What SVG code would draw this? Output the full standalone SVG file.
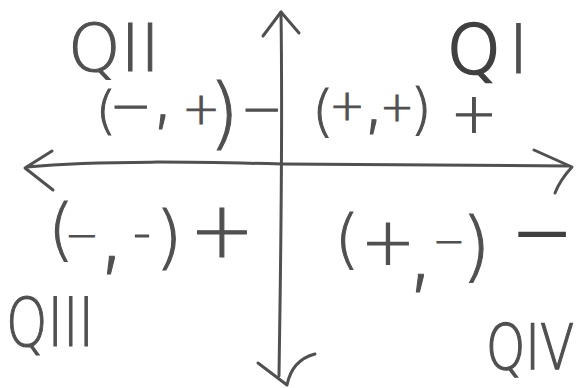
<svg xmlns="http://www.w3.org/2000/svg" width="578" height="388" viewBox="0 0 578 388">
<style>
.ln{fill:none;stroke:#505050;stroke-width:3;stroke-linecap:round;stroke-linejoin:round}
text{font-family:"DejaVu Sans","Liberation Sans",sans-serif;font-weight:200;fill:#505050;stroke:#505050;stroke-width:1.1;text-anchor:middle}
.st{text-anchor:start}
.heavy{stroke:#404040;stroke-width:2.5;fill:#404040}
</style>
<rect width="578" height="388" fill="#fff"/>
<g id="axes">
<path class="ln" d="M27,167 C100,160 200,162 282,164 L569,166"/>
<path class="ln" d="M52,151 L25,168 L53,190"/>
<path class="ln" d="M534,150 L572,167 Q560,180 555,193"/>
<path class="ln" d="M281,12 C283,150 280,300 279,376"/>
<path class="ln" d="M263,36 L281,12 L299,33"/>
<path class="ln" d="M258,363 L287,385 Q292,360 315,354"/>
</g>
<g id="q2">
<text class="st" x="68" y="71" font-size="66" textLength="92" lengthAdjust="spacingAndGlyphs">QII</text>
<text><tspan x="106" y="128" font-size="52">(</tspan><tspan x="131" y="123" font-size="50">−</tspan><tspan x="163" y="120" font-size="80">,</tspan><tspan x="201" y="124" font-size="45">+</tspan><tspan x="224" y="140" font-size="78">)</tspan></text>
<text x="262" y="126" font-size="50">−</text>
</g>
<g id="q1">
<text class="st" x="447" y="73" font-size="68"><tspan class="heavy">Q</tspan><tspan dx="8">I</tspan></text>
<text><tspan x="323" y="130" font-size="56">(</tspan><tspan x="347" y="120" font-size="42">+</tspan><tspan x="374" y="125" font-size="80">,</tspan><tspan x="397" y="121" font-size="40">+</tspan><tspan x="421" y="128" font-size="55">)</tspan></text>
<text x="474" y="132" font-size="56">+</text>
</g>
<g id="q3">
<text><tspan x="61" y="253" font-size="67">(</tspan><tspan x="82" y="249" font-size="40">−</tspan><tspan x="112" y="262" font-size="100">,</tspan><tspan x="142" y="250" font-size="50">-</tspan><tspan x="169" y="261" font-size="70">)</tspan></text>
<text x="222" y="257" font-size="78">+</text>
<text class="st" x="6" y="346" font-size="68" textLength="88" lengthAdjust="spacingAndGlyphs">QIII</text>
</g>
<g id="q4">
<text><tspan x="347" y="261" font-size="64">(</tspan><tspan x="388" y="264" font-size="65">+</tspan><tspan x="421" y="280" font-size="100">,</tspan><tspan x="449" y="254" font-size="38">−</tspan><tspan x="476" y="272" font-size="76">)</tspan></text>
<text class="heavy" x="542" y="257" font-size="72">−</text>
<text class="st" transform="translate(486,369) scale(1,1.24)" x="0" y="0" font-size="50">QIV</text>
</g>
</svg>
